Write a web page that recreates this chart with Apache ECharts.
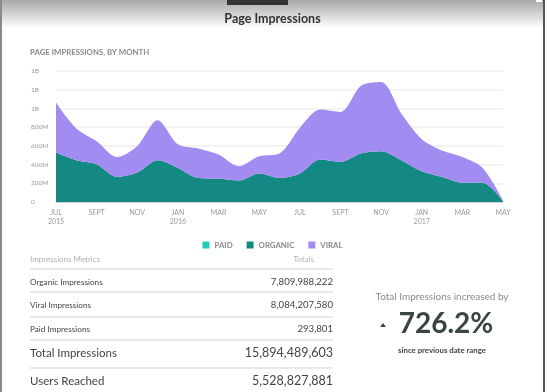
<!DOCTYPE html>
<html><head><meta charset="utf-8">
<script src="https://cdn.jsdelivr.net/npm/echarts@6/dist/echarts.min.js"></script>
<style>html,body{margin:0;padding:0;background:#fff}#c{width:545px;height:392px}</style>
</head><body><div id="c"></div>
<script>
// ---- data ----
var months = ['JUL','AUG','SEPT','OCT','NOV','DEC','JAN','FEB','MAR','APR','MAY','JUN','JUL','AUG','SEPT','OCT','NOV','DEC','JAN','FEB','MAR','APR','MAY'];
var yearLabels = {0:'2015', 6:'2016', 18:'2017'};
var paid = [0,0,0,0,0,0,0,0,0,0,0,0,0,0,0,0,0,0,0,0,0,0,0];
var organic = [528,446,403,267,314,446,364,257,250,229,304,257,304,453,428,518,542,446,328,267,207,207,10];
var viral = [535,339,246,214,285,428,253,314,257,153,185,261,488,535,535,723,741,499,342,283,274,157,8];
var seriesNames = ['PAID','ORGANIC','VIRAL'];
var metricLabels = ['Organic Impressions','Viral Impressions','Paid Impressions'];
var metricValues = ['7,809,988,222','8,084,207,580','293,801'];
var totalLabels = ['Total Impressions','Users Reached'];
var totalValues = ['15,894,489,603','5,528,827,881'];
var changeText = '726.2%';

var M = 1e6;
function scale(a){return a.map(function(v){return v*M;});}

var FONT = 'Lato, "Open Sans", sans-serif';
var colors = ['#20cbbb','#148882','#a28bf1'];

var chart = echarts.init(document.getElementById('c'), null, {renderer:'canvas'});

var graphics = [
  {type:'rect', shape:{x:0,y:0,width:545,height:40}, z:-10,
   style:{fill:new echarts.graphic.LinearGradient(0,0,0,1,[{offset:0,color:'#a8a8a8'},{offset:0.7,color:'#ffffff'},{offset:1,color:'#ffffff'}])}},
  {type:'rect', shape:{x:227,y:0,width:61,height:5}, style:{fill:'#333'}},
  {type:'rect', shape:{x:536,y:0,width:6,height:2}, style:{fill:'#fff'}},
  {type:'rect', shape:{x:0,y:0,width:2,height:392}, style:{fill:'#8a8a8a'}},
  {type:'rect', shape:{x:543,y:0,width:2,height:392}, style:{fill:'#555'}},
  {type:'text', x:30, y:52, style:{text:'PAGE IMPRESSIONS, BY MONTH', font:'bold 7.8px '+FONT, fill:'#8a8a8a', verticalAlign:'middle'}},
  // table header
  {type:'text', x:30, y:259, style:{text:'Impressions Metrics', font:'8px '+FONT, fill:'#b0b0b0', verticalAlign:'middle'}},
  {type:'text', x:314, y:259, style:{text:'Totals', font:'8px '+FONT, fill:'#b0b0b0', align:'right', verticalAlign:'middle'}}
];
var lineYs = [269,292,317,340,368];
lineYs.forEach(function(y){
  graphics.push({type:'rect', shape:{x:30,y:y-0.75,width:303,height:1.5}, style:{fill:'#e2e2e2'}});
});
var rowYs = [282,305,329];
metricLabels.forEach(function(t,i){
  graphics.push({type:'text', x:30, y:rowYs[i], style:{text:t, font:'8.2px '+FONT, fill:'#444', verticalAlign:'middle'}});
  graphics.push({type:'text', x:333, y:rowYs[i], style:{text:metricValues[i], font:'9.6px '+FONT, fill:'#444', align:'right', verticalAlign:'middle'}});
});
var totYs = [353,381];
totalLabels.forEach(function(t,i){
  graphics.push({type:'text', x:30, y:totYs[i], style:{text:t, font:'11.5px '+FONT, fill:'#444', verticalAlign:'middle'}});
  graphics.push({type:'text', x:333, y:totYs[i], style:{text:totalValues[i], font:'12.5px '+FONT, fill:'#444', align:'right', verticalAlign:'middle'}});
});
graphics.push({type:'text', x:442, y:297, style:{text:'Total Impressions increased by', font:'10px '+FONT, fill:'#8a8a8a', align:'center', verticalAlign:'middle'}});
graphics.push({type:'text', x:446, y:324, style:{text:changeText, font:'bold 28px '+FONT, fill:'#3a4545', align:'center', verticalAlign:'middle'}});
graphics.push({type:'polygon', shape:{points:[[380,327],[386,327],[383,323]]}, style:{fill:'#3a4545'}});
graphics.push({type:'text', x:442, y:350, style:{text:'since previous date range', font:'bold 7.8px '+FONT, fill:'#444', align:'center', verticalAlign:'middle'}});

var option = {
  animation:false,
  color:colors,
  title:{text:'Page Impressions', left:'center', top:7, textStyle:{fontFamily:FONT, fontSize:12.5, fontWeight:'bold', color:'#333'}},
  legend:{data:seriesNames, top:236, left:'center', icon:'rect', itemWidth:7, itemHeight:7, itemGap:14,
    textStyle:{fontFamily:FONT, fontSize:7.8, fontWeight:'bold', color:'#888'}},
  grid:{left:56, right:42, top:71, bottom:190},
  xAxis:{type:'category', data:months, boundaryGap:false,
    axisLine:{show:true, lineStyle:{color:'#d0d0d0'}}, axisTick:{show:false},
    axisLabel:{interval:1, margin:6, fontFamily:FONT, fontSize:7, color:'#999', lineHeight:9,
      formatter:function(v,i){return yearLabels[i]? v+'\n'+yearLabels[i] : v;}}},
  yAxis:{type:'value', min:0, max:1.4e9, interval:2e8,
    axisLine:{show:false}, axisTick:{show:false},
    splitLine:{lineStyle:{color:'#eeeeee', width:1.5}},
    axisLabel:{align:'left', margin:25, fontFamily:FONT, fontSize:6.5, color:'#999',
      formatter:function(v){ if(v===0) return '0'; if(v>=1e9) return Math.round(v/1e9)+'B'; return Math.round(v/1e6)+'M';}}},
  series:[
    {name:'PAID', type:'line', stack:'t', data:scale(paid), smooth:0.3, showSymbol:false, lineStyle:{width:0}, areaStyle:{color:colors[0], opacity:1}},
    {name:'ORGANIC', type:'line', stack:'t', data:scale(organic), smooth:0.3, showSymbol:false, lineStyle:{width:0}, areaStyle:{color:colors[1], opacity:1}},
    {name:'VIRAL', type:'line', stack:'t', data:scale(viral), smooth:0.3, showSymbol:false, lineStyle:{width:0}, areaStyle:{color:colors[2], opacity:1}}
  ],
  graphic:graphics
};
chart.setOption(option);
</script></body></html>
